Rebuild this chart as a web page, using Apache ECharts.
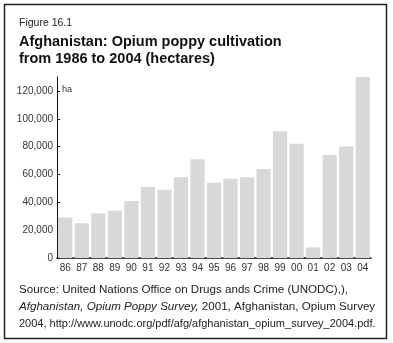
<!DOCTYPE html>
<html><head><meta charset="utf-8">
<script src="https://cdn.jsdelivr.net/npm/echarts@6/dist/echarts.min.js"></script>
<style>html,body{margin:0;padding:0;background:#fff}#c{width:393px;height:343px}</style>
</head><body><div id="c"></div>
<script>
var categories = ['86','87','88','89','90','91','92','93','94','95','96','97','98','99','00','01','02','03','04'];
var hectares = [29000, 25000, 32000, 34000, 41000, 51000, 49000, 58000, 71000, 54000, 57000, 58000, 64000, 91000, 82000, 7600, 74000, 80000, 130000];
var yTicks = [0, 20000, 40000, 60000, 80000, 100000, 120000];
var unitLabel = 'ha';
var figureLabel = 'Figure 16.1';
var titleLines = ['Afghanistan: Opium poppy cultivation', 'from 1986 to 2004 (hectares)'];

var FONT = '"Liberation Sans", Arial, Helvetica, sans-serif';
var chart = echarts.init(document.getElementById('c'), null, {renderer: 'canvas'});
chart.setOption({
  animation: false,
  backgroundColor: '#fff',
  grid: {left: 57, right: 22, top: 77, bottom: 85, containLabel: false},
  xAxis: {
    type: 'category', data: categories,
    axisLine: {lineStyle: {color: '#111', width: 1.5}},
    axisTick: {show: false},
    axisLabel: {color: '#333', fontSize: 10, fontFamily: FONT, margin: 5}
  },
  yAxis: {
    type: 'value', min: 0, max: 130000,
    axisLine: {show: true, lineStyle: {color: '#111', width: 1}},
    axisTick: {show: true, inside: true, length: 3, lineStyle: {color: '#111'}, customValues: yTicks},
    splitLine: {show: false},
    axisLabel: {color: '#333', fontSize: 10, fontFamily: FONT, margin: 4, customValues: yTicks,
      formatter: function (v) { return v.toLocaleString('en-US'); }}
  },
  series: [{
    type: 'bar', data: hectares, barCategoryGap: '14%',
    itemStyle: {color: '#d8d8da'}
  }],
  graphic: [
    {type: 'rect', shape: {x: 4.5, y: 4.5, width: 382, height: 334}, style: {fill: 'none', stroke: '#222', lineWidth: 1.5}, silent: true},
    {type: 'text', left: 19, top: 17.5, style: {text: figureLabel, font: '10.5px ' + FONT, fill: '#222'}},
    {type: 'text', left: 19, top: 34, style: {text: titleLines.join('\n'), font: 'bold 14.5px ' + FONT, fill: '#111', lineHeight: 16.5}},
    {type: 'text', left: 62, top: 85, style: {text: unitLabel, font: '9px ' + FONT, fill: '#333'}},
    {type: 'text', left: 19, top: 283.5, style: {
      rich: {
        n: {font: '11.6px ' + FONT, fill: '#222', lineHeight: 17},
        i: {font: 'italic 11.6px ' + FONT, fill: '#222', lineHeight: 17},
        s: {font: '11px ' + FONT, fill: '#222', lineHeight: 17}
      },
      text: '{n|Source: United Nations Office on Drugs ands Crime (UNODC),),}\n{i|Afghanistan, Opium Poppy Survey,}{n| 2001, Afghanistan, Opium Survey}\n{s|2004, http://www.unodc.org/pdf/afg/afghanistan_opium_survey_2004.pdf.}'
    }}
  ]
});
</script></body></html>
